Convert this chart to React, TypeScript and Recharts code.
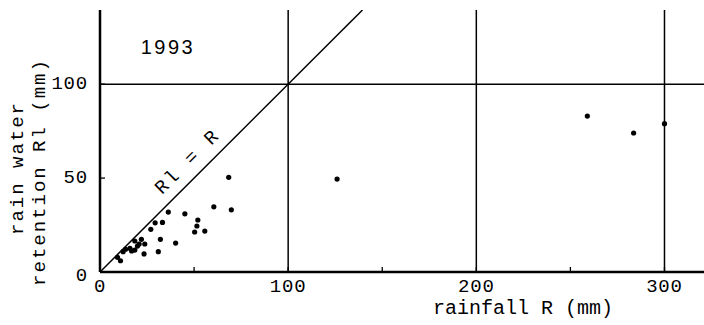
import React from 'react';
import { ScatterChart, Scatter, XAxis, YAxis, ReferenceLine } from 'recharts';

// rainfall R (mm)
const rainfall = [
  126, 259, 283.6, 300,
  68.4, 60.5, 69.8, 36.3, 45.1, 52.0, 29.3, 33.2, 51.5, 27.0, 50.3, 55.7,
  32.1, 40.2, 18.5, 22.0, 23.8, 20.8, 31.0, 23.4, 18.5, 15.9, 13.6, 12.3,
  16.8, 9.3, 10.9, 19.9,
];
// rain water retention Rl (mm)
const retention = [
  49.5, 83, 74, 79,
  50.4, 34.7, 33.1, 31.9, 31.0, 27.7, 26.2, 26.4, 24.5, 22.7, 21.3, 21.8,
  17.4, 15.4, 16.5, 17.4, 14.9, 14.9, 10.8, 9.6, 11.7, 12.6, 12.1, 10.8,
  11.2, 7.8, 6.0, 13.8,
];

const xTicks = [0, 50, 100, 150, 200, 250, 300];
const xTickLabels = [0, 100, 200, 300];
const yTicks = [0, 50, 100];
const yTickLabels = [0, 50, 100];
const gridX = [100, 200, 300];
const gridY = [100];
const yearLabel = '1993';
const lineLabel = 'Rl = R';
const xTitle = 'rainfall R (mm)';
const yTitleLines = ['rain water', 'retention Rl (mm)'];
const X_MAX = 321;
const Y_MAX = 139.5;

const data = rainfall.map((r, i) => ({ r, rl: retention[i] }));

const MONO = '"Liberation Mono", "DejaVu Sans Mono", monospace';
const SANS = '"Liberation Sans", Arial, sans-serif';

const XTick = (props: any) => {
  const { x, y, payload } = props;
  const v = payload.value;
  return (
    <g>
      {v !== 0 && <line x1={x} x2={x} y1={y} y2={y - 5} stroke="#000" strokeWidth={1.3} />}
      {xTickLabels.includes(v) && (
        <text x={x} y={y + 15} textAnchor="middle" dominantBaseline="central"
          fontFamily={MONO} fontSize={19} letterSpacing={0.8} fill="#000">{v}</text>
      )}
    </g>
  );
};

const YTick = (props: any) => {
  const { x, y, payload } = props;
  const v = payload.value;
  return (
    <g>
      {v !== 0 && <line x1={x} x2={x + 5} y1={y} y2={y} stroke="#000" strokeWidth={1.3} />}
      {yTickLabels.includes(v) && (
        <text x={x - 12} y={y + (v === 0 ? 4 : 0)} textAnchor="end" dominantBaseline="central"
          fontFamily={MONO} fontSize={19} letterSpacing={0.8} fill="#000">{v}</text>
      )}
    </g>
  );
};

const Texts = () => (
  <g>
    <text x={523} y={308} textAnchor="middle" dominantBaseline="central"
      fontFamily={MONO} fontSize={20} fill="#000">{xTitle}</text>
    {yTitleLines.map((t, i) => (
      <text key={t} x={0} y={0} textAnchor="middle" dominantBaseline="central"
        transform={`translate(${18 + i * 22}, ${i === 0 ? 168 : 172}) rotate(-90)`}
        fontFamily={MONO} fontSize={19} letterSpacing={2} fill="#000">{t}</text>
    ))}
    <text x={168} y={47} textAnchor="middle" dominantBaseline="central"
      fontFamily={SANS} fontSize={20} letterSpacing={2.5} fill="#000">{yearLabel}</text>
    <text x={0} y={0} textAnchor="middle" dominantBaseline="central"
      transform="translate(188, 162) rotate(-45)"
      fontFamily={MONO} fontSize={19} letterSpacing={2.5} fill="#000">{lineLabel}</text>
  </g>
);

const Dot = (p: any) => <circle cx={p.cx} cy={p.cy} r={2.6} fill="#000" />;

export default function App() {
  return (
    <div style={{ position: 'absolute', left: 0, top: 0, width: 704, height: 325, background: '#fff' }}>
      <ScatterChart width={704} height={325} margin={{ top: 10, right: 0, bottom: 0, left: 0 }}>
        <XAxis type="number" dataKey="r" domain={[0, X_MAX]} ticks={xTicks} allowDataOverflow
          height={53} tickSize={0} tickMargin={0} tickLine={false}
          axisLine={{ stroke: '#000', strokeWidth: 2.5 }} tick={<XTick />} interval={0}
          label={{ content: () => <Texts /> }} />
        <YAxis type="number" dataKey="rl" domain={[0, Y_MAX]} ticks={yTicks} allowDataOverflow
          width={100} tickSize={0} tickMargin={0} tickLine={false}
          axisLine={{ stroke: '#000', strokeWidth: 2.5 }} tick={<YTick />} interval={0} />
        {gridX.map((g) => (
          <ReferenceLine key={`gx${g}`} x={g} stroke="#000" strokeWidth={1.5} />
        ))}
        {gridY.map((g) => (
          <ReferenceLine key={`gy${g}`} y={g} stroke="#000" strokeWidth={1.5} />
        ))}
        <ReferenceLine segment={[{ x: 0, y: 0 }, { x: Y_MAX, y: Y_MAX }]} stroke="#000"
          strokeWidth={1.5} ifOverflow="hidden" />
        <Scatter data={data} fill="#000" shape={<Dot />} isAnimationActive={false} />
      </ScatterChart>
    </div>
  );
}
